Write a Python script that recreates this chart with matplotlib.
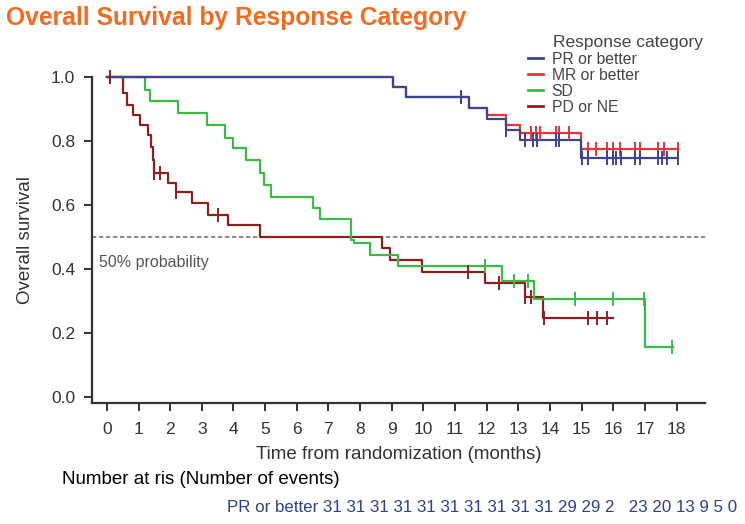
import matplotlib.pyplot as plt
import numpy as np
from matplotlib.lines import Line2D

# Kaplan-Meier curves: step times (months) and survival after each step
pr_times = [0, 9.05, 9.45, 11.45, 12.0, 12.6, 13.07, 14.97, 18.05]
pr_surv = [1.0, 0.969, 0.938, 0.903, 0.869, 0.834, 0.803, 0.747, 0.747]
pr_censor = [11.2, 12.6, 13.2, 13.45, 13.6, 14.2, 14.3, 15.0, 15.2, 15.8,
             16.0, 16.1, 16.25, 16.7, 16.85, 17.4, 17.55, 17.7, 18.05]

mr_times = [0, 9.05, 9.45, 11.45, 12.0, 12.6, 13.07, 14.97, 18.05]
mr_surv = [1.0, 0.969, 0.938, 0.903, 0.881, 0.85, 0.825, 0.775, 0.775]
mr_censor = [11.2, 13.4, 13.55, 13.7, 14.2, 14.3, 14.6, 15.2, 15.45, 15.8,
             16.0, 16.2, 16.7, 16.85, 17.4, 17.6, 18.05]

sd_times = [0, 1.2, 1.36, 2.25, 3.16, 3.73, 4.0, 4.4, 4.84, 4.95, 5.2,
            6.5, 6.75, 7.7, 7.8, 8.3, 9.2, 12.5, 13.5, 17.0, 17.9]
sd_surv = [1.0, 0.96, 0.925, 0.888, 0.85, 0.81, 0.778, 0.74, 0.70, 0.663,
           0.625, 0.59, 0.556, 0.49, 0.48, 0.444, 0.41, 0.363, 0.306, 0.156, 0.156]
sd_censor = [11.96, 12.85, 13.3, 14.8, 16.0, 16.97, 17.85]

pd_times = [0, 0.5, 0.63, 0.84, 1.05, 1.3, 1.4, 1.45, 1.5, 1.93, 2.2, 2.69,
            3.2, 3.83, 4.84, 8.7, 8.96, 9.97, 11.96, 13.2, 13.77, 16.0]
pd_surv = [1.0, 0.95, 0.913, 0.88, 0.85, 0.82, 0.78, 0.74, 0.70, 0.67, 0.64,
           0.605, 0.57, 0.537, 0.50, 0.466, 0.428, 0.39, 0.356, 0.313, 0.247, 0.247]
pd_censor = [0.1, 1.5, 1.68, 2.2, 3.5, 11.4, 12.4, 13.2, 13.4, 13.8, 15.2, 15.5, 15.8]

# number at risk, PR or better
pr_at_risk = ["31", "31", "31", "31", "31", "31", "31", "31", "31", "31",
              "29", "29", "2", " ", "23", "20", "13", "9", "5", "0"]

series = [
    ("PD or NE", pd_times, pd_surv, pd_censor, "#8E1F1F"),
    ("SD", sd_times, sd_surv, sd_censor, "#3DB94A"),
    ("MR or better", mr_times, mr_surv, mr_censor, "#E5353A"),
    ("PR or better", pr_times, pr_surv, pr_censor, "#3C4590"),
]
legend_order = ["PR or better", "MR or better", "SD", "PD or NE"]

plt.rcParams['font.family'] = ['Liberation Sans', 'DejaVu Sans']

W, H = 745, 524
fig = plt.figure(figsize=(W / 100, H / 100), dpi=100)
ax = fig.add_axes([92 / W, 1 - 403 / H, (705 - 92) / W, (403 - 77) / H])

for name, t, s, c, col in series:
    ax.step(t, s, where='post', color=col, lw=1.6, clip_on=False, zorder=3)
    t = np.asarray(t)
    idx = np.searchsorted(t, c, side='right') - 1
    ys = np.asarray(s)[idx]
    ax.plot(c, ys, ls='none', marker='|', ms=10, mew=1.4, color=col,
            clip_on=False, zorder=4)

ax.axhline(0.5, color='#888888', lw=1.4, ls=(0, (2.2, 1.4)), zorder=2)
ax.text(-0.25, 0.42, "50% probability", fontsize=11.5, color='#555555',
        va='center', ha='left')

ax.set_xlim(-0.47, 18.9)
ax.set_ylim(-0.019, 1.0)
ax.set_xticks(range(0, 19))
ax.set_yticks([0.0, 0.2, 0.4, 0.6, 0.8, 1.0])
ax.set_yticklabels(["0.0", "0.2", "0.4", "0.6", "0.8", "1.0"])
for sp in ["top", "right"]:
    ax.spines[sp].set_visible(False)
for sp in ["left", "bottom"]:
    ax.spines[sp].set_linewidth(1.6)
    ax.spines[sp].set_color('#333333')
ax.tick_params(axis='both', direction='out', length=6, width=1.4,
               colors='#333333', labelsize=12.5, labelcolor='#333333')
ax.tick_params(axis='x', pad=8)
ax.tick_params(axis='y', pad=6)
ax.set_xlabel("Time from randomization (months)", fontsize=13.5,
              color='#333333', labelpad=6)
ax.set_ylabel("Overall survival", fontsize=13.5, color='#333333', labelpad=12)

handles = {name: Line2D([], [], color=col, lw=2) for name, _, _, _, col in series}
fig.text(553 / W, 1 - 42 / H, "Response category", fontsize=12.5,
         color='#444444', va='center', ha='left')
ax.legend([handles[n] for n in legend_order], legend_order,
          loc='upper left', bbox_to_anchor=(528 / W, 1 - 51.5 / H),
          bbox_transform=fig.transFigure, frameon=False, fontsize=11.3,
          handlelength=0.95, handletextpad=0.55, labelspacing=0.07,
          borderpad=0, borderaxespad=0, labelcolor='#444444')

fig.text(6 / W, 1 - 17.5 / H, "Overall Survival by Response Category",
         fontsize=17.7, fontweight='bold', color='#F26B21', va='center', ha='left')
fig.text(62 / W, 1 - 480 / H, "Number at ris (Number of events)",
         fontsize=13.5, color='black', va='center', ha='left')
fig.text(737 / W, 1 - 508 / H, "PR or better " + " ".join(pr_at_risk),
         fontsize=12.2, color='#2E3F8F', va='center', ha='right')

fig.savefig("out.png", dpi=100)
